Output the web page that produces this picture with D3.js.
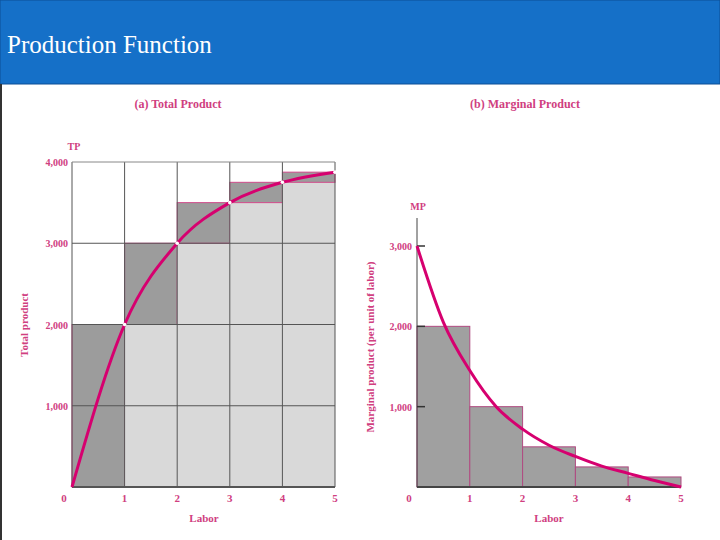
<!DOCTYPE html>
<html><head><meta charset="utf-8">
<script src="https://cdn.jsdelivr.net/npm/d3@7"></script>
<style>body{margin:0;background:#fff}</style></head>
<body><svg id="c" width="720" height="540"></svg>
<script>
var labor = [0, 1, 2, 3, 4, 5];
var totalProduct = [0, 2000, 3000, 3500, 3750, 3875];
var marginalProduct = [2000, 1000, 500, 250, 125];
var mpCurveX = [0, 0.5, 1, 1.5, 2, 2.5, 3, 3.5, 4, 4.5, 5];
var mpCurveY = [3000, 2050, 1450, 1000, 720, 520, 380, 260, 170, 80, 0];
var tpTicks = [1000, 2000, 3000, 4000];
var mpTicks = [1000, 2000, 3000];

var pink = "#d6006f", txt = "#d0407f";
var svg = d3.select("#c");
svg.append("rect").attr("width", 720).attr("height", 540).attr("fill", "#fff");
svg.append("rect").attr("width", 720).attr("height", 84).attr("fill", "#1570c8").attr("stroke", "#0d4f96");
svg.append("line").attr("x1", 1).attr("x2", 1).attr("y1", 84).attr("y2", 540).attr("stroke", "#333").attr("stroke-width", 2);
svg.append("text").attr("x", 7).attr("y", 53).attr("fill", "#fff")
    .attr("font-family", "Liberation Serif").attr("font-size", 25).text("Production Function");

var fmt = d3.format(",");
function label(x, y, t, size, anchor, rot) {
    var e = svg.append("text").attr("x", x).attr("y", y).attr("fill", txt)
        .attr("font-family", "Liberation Serif").attr("font-weight", "bold")
        .attr("font-size", size || 11).attr("text-anchor", anchor || "middle").text(t);
    if (rot) e.attr("transform", "rotate(-90," + x + "," + y + ")");
    return e;
}

// (a) total product
var x1 = d3.scaleLinear().domain([0, 5]).range([72, 335]);
var y1 = d3.scaleLinear().domain([0, 4000]).range([487, 162]);
var g1 = svg.append("g");
for (var i = 0; i < 5; i++) {
    g1.append("rect").attr("x", x1(i)).attr("width", x1(i + 1) - x1(i))
        .attr("y", y1(totalProduct[i])).attr("height", y1(0) - y1(totalProduct[i]))
        .attr("fill", "#d9d9d9");
    g1.append("rect").attr("x", x1(i)).attr("width", x1(i + 1) - x1(i))
        .attr("y", y1(totalProduct[i + 1])).attr("height", y1(totalProduct[i]) - y1(totalProduct[i + 1]))
        .attr("fill", "#9c9c9c").attr("stroke", "#d04a8a").attr("stroke-width", 1);
}
g1.selectAll(".vg").data(labor).enter().append("line")
    .attr("x1", x1).attr("x2", x1).attr("y1", y1(4000)).attr("y2", y1(0))
    .attr("stroke", "#555").attr("stroke-width", 1);
g1.selectAll(".hg").data([0].concat(tpTicks)).enter().append("line")
    .attr("x1", x1(0)).attr("x2", x1(5)).attr("y1", y1).attr("y2", y1)
    .attr("stroke", function(d){return d == 4000 ? "#888" : "#555";}).attr("stroke-width", function(d){return d == 0 ? 2 : 1;});
g1.append("path").datum(labor)
    .attr("d", d3.line().x(function(d){return x1(d);}).y(function(d, i){return y1(totalProduct[i]);}).curve(d3.curveMonotoneX))
    .attr("fill", "none").attr("stroke", pink).attr("stroke-width", 3);
g1.selectAll(".pt").data(labor.slice(1)).enter().append("circle")
    .attr("cx", x1).attr("cy", function(d){return y1(totalProduct[d]);}).attr("r", 1.8).attr("fill", "#fff");
tpTicks.forEach(function(t){ label(68, y1(t) + 4, fmt(t), 10, "end"); });
labor.forEach(function(l){ label(x1(l) - (l == 0 ? 8 : 0), 502, l, 11); });
label(74, 150, "TP", 10, "middle");
label(204, 522, "Labor", 11);
label(28, 325, "Total product", 11, "middle", true);
label(178, 108, "(a) Total Product", 12);

// (b) marginal product
var x2 = d3.scaleLinear().domain([0, 5]).range([417, 681]);
var y2 = d3.scaleLinear().domain([0, 3000]).range([487, 246]);
var g2 = svg.append("g");
g2.selectAll("rect").data(marginalProduct).enter().append("rect")
    .attr("x", function(d, i){return x2(i);}).attr("width", x2(1) - x2(0))
    .attr("y", y2).attr("height", function(d){return y2(0) - y2(d);})
    .attr("fill", "#a0a0a0").attr("stroke", "#b04a80").attr("stroke-width", 1);
g2.append("line").attr("x1", x2(0)).attr("x2", x2(0)).attr("y1", 218).attr("y2", y2(0)).attr("stroke", "#444");
g2.append("line").attr("x1", x2(0)).attr("x2", x2(5)).attr("y1", y2(0)).attr("y2", y2(0)).attr("stroke", "#444").attr("stroke-width", 2);
g2.selectAll(".tk").data(mpTicks).enter().append("line")
    .attr("x1", x2(0)).attr("x2", x2(0) + 8).attr("y1", y2).attr("y2", y2).attr("stroke", "#333").attr("stroke-width", 1.5);
g2.append("path").datum(mpCurveX)
    .attr("d", d3.line().x(function(d){return x2(d);}).y(function(d, i){return y2(mpCurveY[i]);}).curve(d3.curveMonotoneX))
    .attr("fill", "none").attr("stroke", pink).attr("stroke-width", 3);
mpTicks.forEach(function(t){ label(412, y2(t) + 4, fmt(t), 10, "end"); });
labor.forEach(function(l){ label(x2(l) - (l == 0 ? 8 : 0), 502, l, 11); });
label(418, 210, "MP", 10, "middle");
label(549, 522, "Labor", 11);
label(374, 347, "Marginal product (per unit of labor)", 11, "middle", true);
label(525, 108, "(b) Marginal Product", 12);
</script></body></html>
